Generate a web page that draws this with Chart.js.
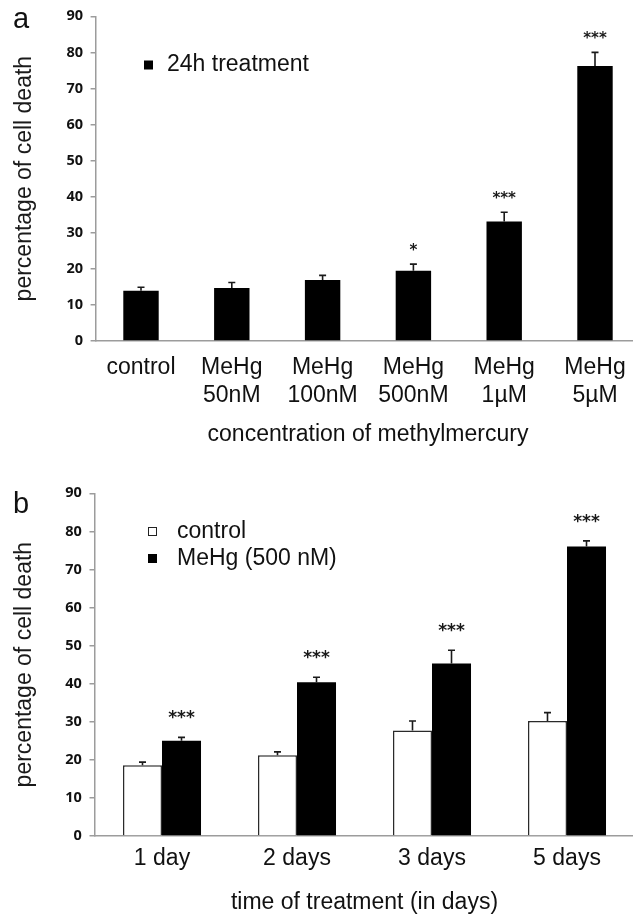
<!DOCTYPE html>
<html>
<head>
<meta charset="utf-8">
<script src="https://cdn.jsdelivr.net/npm/chart.js@4.4.1/dist/chart.umd.min.js"></script>
<style>
  html, body { margin: 0; padding: 0; background: #fff; overflow: hidden; width: 633px; height: 915px; }
  #wrapA { position: absolute; left: 0; top: 0; width: 645px; height: 465px; }
  #wrapB { position: absolute; left: 0; top: 465px; width: 640px; height: 452px; }
</style>
</head>
<body>
<div id="wrapA"><canvas id="chartA" width="645" height="465" style="width:645px;height:465px"></canvas></div>
<div id="wrapB"><canvas id="chartB" width="640" height="452" style="width:640px;height:452px"></canvas></div>
<script>
// ---------- Data: panel a ----------
const concLabels = ["control", ["MeHg", "50nM"], ["MeHg", "100nM"], ["MeHg", "500nM"], ["MeHg", "1µM"], ["MeHg", "5µM"]];
const deathA = [13.9, 14.7, 16.9, 19.5, 33.1, 76.2];
const errA = [1.0, 1.5, 1.3, 1.8, 2.6, 3.8];
const starsA = ["", "", "", "*", "***", "***"];

// ---------- Data: panel b ----------
const dayLabels = ["1 day", "2 days", "3 days", "5 days"];
const controlB = [18.6, 21.2, 27.7, 30.2];
const controlErrB = [0.8, 0.9, 2.5, 2.2];
const mehgB = [25.0, 40.4, 45.3, 76.0];
const mehgErrB = [0.9, 1.3, 3.5, 1.5];
const starsB = ["***", "***", "***", "***"];

const yTicks = [0, 10, 20, 30, 40, 50, 60, 70, 80, 90];

const AXIS = '#9c9c9c';
const TXT = '#111';

const annot = {
  id: 'annot',
  afterDatasetsDraw(chart, args, o) {
    const ctx = chart.ctx;
    const ys = chart.scales.y;
    ctx.save();
    o.series.forEach(s => {
      const meta = chart.getDatasetMeta(s.dataset);
      const vals = chart.data.datasets[s.dataset].data;
      meta.data.forEach((bar, j) => {
        const v = vals[j], e = s.err[j];
        const p0 = ys.getPixelForValue(v), p1 = ys.getPixelForValue(v + e);
        ctx.strokeStyle = '#1a1a1a';
        ctx.lineWidth = 1.6;
        ctx.beginPath();
        ctx.moveTo(bar.x, p0); ctx.lineTo(bar.x, p1);
        ctx.moveTo(bar.x - o.cap, p1); ctx.lineTo(bar.x + o.cap, p1);
        ctx.stroke();
        if (s.stars && s.stars[j]) {
          ctx.fillStyle = '#1a1a1a';
          ctx.font = 'bold ' + o.starSize + 'px "DejaVu Sans"';
          ctx.textAlign = 'center';
          ctx.textBaseline = 'middle';
          ctx.fillText(s.stars[j], bar.x, p1 - o.starGap);
        }
      });
    });
    ctx.restore();
  },
  afterDraw(chart, args, o) {
    const ctx = chart.ctx;
    ctx.save();
    ctx.fillStyle = TXT;
    ctx.font = '29px "Liberation Sans"';
    ctx.textAlign = 'left';
    ctx.textBaseline = 'alphabetic';
    ctx.fillText(o.panel, o.panelX, o.panelY);
    chart.data.datasets.forEach((ds, i) => {
      const cy = o.legY + i * o.legStep;
      const sx = o.legX;
      ctx.fillStyle = ds.backgroundColor;
      ctx.fillRect(sx, cy - 4.5, 9, 9);
      if (ds.backgroundColor !== '#000000') {
        ctx.strokeStyle = '#222';
        ctx.lineWidth = 1;
        ctx.strokeRect(sx + 0.5, cy - 4, 8, 8);
      }
      ctx.fillStyle = TXT;
      ctx.font = '23px "Liberation Sans"';
      ctx.textAlign = 'left';
      ctx.textBaseline = 'middle';
      ctx.fillText(ds.label, sx + o.legGap, cy);
    });
    ctx.restore();
  }
};

function yScale(width) {
  return {
    min: 0, max: 90,
    afterBuildTicks: s => { s.ticks = yTicks.map(v => ({ value: v })); },
    afterFit: s => { s.width = width; },
    border: { display: true, color: AXIS, width: 1.5 },
    grid: { display: true, drawOnChartArea: false, drawTicks: true, tickLength: 5, color: AXIS, lineWidth: 1.5 },
    ticks: { padding: 7.6, color: TXT, font: { family: '"Open Sans"', weight: 'bold', size: 14.5 } },
    title: { display: true, text: 'percentage of cell death', color: '#1a1a1a', padding: { top: 11, bottom: 0 }, font: { family: '"Liberation Sans"', size: 23 } }
  };
}

function xScale(height, tickPad, title, titlePad) {
  return {
    afterFit: s => { s.height = height; },
    border: { display: true, color: AXIS, width: 1.5 },
    grid: { display: false, drawTicks: false },
    ticks: { padding: tickPad, color: TXT, maxRotation: 0, autoSkip: false, font: { family: '"Liberation Sans"', size: 23 } },
    title: { display: true, text: title, color: TXT, padding: { top: 0, bottom: titlePad }, font: { family: '"Liberation Sans"', size: 23 } }
  };
}

new Chart(document.getElementById('chartA'), {
  type: 'bar',
  data: {
    labels: concLabels,
    datasets: [{
      label: '24h treatment',
      data: deathA,
      backgroundColor: '#000000',
      borderWidth: 0,
      categoryPercentage: 0.39,
      barPercentage: 1.0
    }]
  },
  options: {
    responsive: false,
    animation: false,
    layout: { padding: { left: 0, top: 15.7, right: 4.6, bottom: 0 } },
    plugins: {
      legend: { display: false },
      tooltip: { enabled: false },
      annot: {
        series: [{ dataset: 0, err: errA, stars: starsA }],
        cap: 3.5, starSize: 15, starGap: 13,
        panel: 'a', panelX: 13, panelY: 28,
        legX: 144, legY: 65, legStep: 27, legGap: 23
      }
    },
    scales: {
      x: xScale(124, 13, 'concentration of methylmercury', 16.2),
      y: yScale(95.6)
    }
  },
  plugins: [annot]
});

new Chart(document.getElementById('chartB'), {
  type: 'bar',
  data: {
    labels: dayLabels,
    datasets: [{
      label: 'control',
      data: controlB,
      backgroundColor: '#ffffff',
      borderColor: '#2a2a2a',
      borderWidth: 1.5,
      categoryPercentage: 0.578,
      barPercentage: 1.0
    }, {
      label: 'MeHg (500 nM)',
      data: mehgB,
      backgroundColor: '#000000',
      borderWidth: 0,
      categoryPercentage: 0.578,
      barPercentage: 1.0
    }]
  },
  options: {
    responsive: false,
    animation: false,
    layout: { padding: { left: 0, top: 28.3, right: 5.5, bottom: 0 } },
    plugins: {
      legend: { display: false },
      tooltip: { enabled: false },
      annot: {
        series: [{ dataset: 0, err: controlErrB }, { dataset: 1, err: mehgErrB, stars: starsB }],
        cap: 3.5, starSize: 17, starGap: 18.5,
        panel: 'b', panelX: 13, panelY: 48,
        legX: 148, legY: 66.5, legStep: 27, legGap: 29
      }
    },
    scales: {
      x: xScale(81, 8.5, 'time of treatment (in days)', 0.7),
      y: yScale(94.5)
    }
  },
  plugins: [annot]
});
</script>
</body>
</html>
